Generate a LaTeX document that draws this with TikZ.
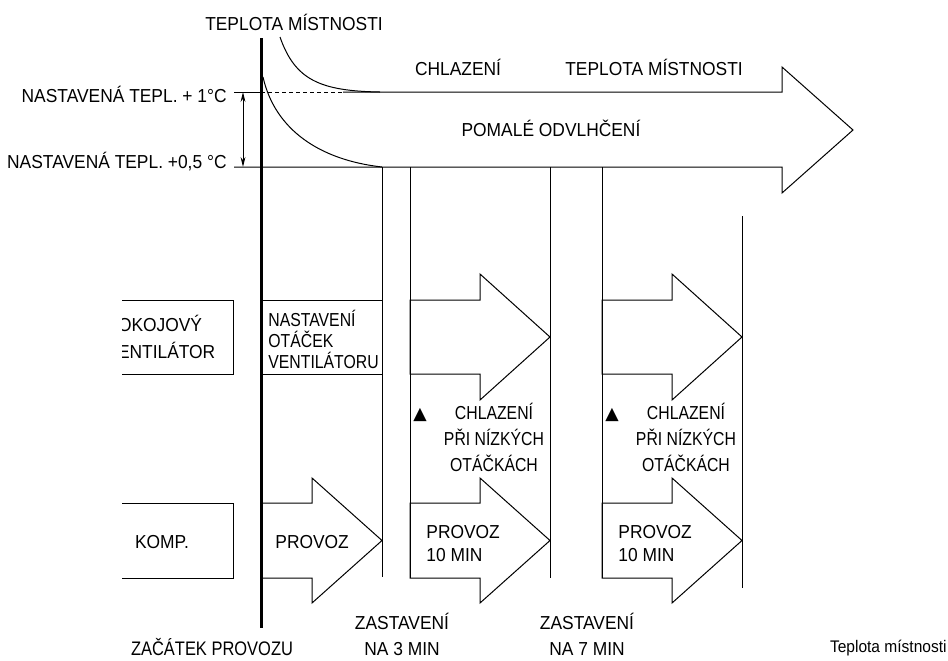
\documentclass[tikz,border=0pt]{standalone}
\usepackage{fontspec}
\setmainfont[FakeStretch=0.925]{Liberation Sans}
\newfontfamily\narrowsf[FakeStretch=0.84]{Liberation Sans}
\newfontfamily\symfont{DejaVu Sans}
\usetikzlibrary{arrows.meta}

\tikzset{
  lbl/.style={font=\fontsize{9.4}{10.5}\selectfont, inner sep=0pt},
  nlbl/.style={font=\narrowsf\fontsize{9.4}{13}\selectfont, inner sep=0pt},
  thin/.style={line width=0.5pt},
  blockarr/.style={line width=0.5pt, line join=miter},
}

\begin{document}
\begin{tikzpicture}[x=0.5pt, y=-0.5pt]
\useasboundingbox (0,0) rectangle (948,660);

% start of operation
\draw[line width=1.5pt] (261,38) -- (261,628);

% room temperature curves
\draw[thin] (280,37) .. controls (295,80) and (320,91) .. (380,92);
\draw[thin] (263,77) .. controls (275,130) and (320,160) .. (382,167);

% set point lines and the big arrow
\draw[thin] (234,92) -- (261,92);
\draw[thin, dash pattern=on 2pt off 1.5pt] (261,92) -- (343,92);
\draw[blockarr] (343,92) -- (782,92) -- (782,67) -- (853,130) -- (782,193) -- (782,167) -- (234,167);

\coordinate (plus1) at (243,92);
\coordinate (plus05) at (243,167);
\draw[thin, {Stealth[length=5pt,width=2.4pt]}-{Stealth[length=5pt,width=2.4pt]}] (plus1) -- (plus05);

\node[lbl, anchor=base] (roomtop) at (294,30) {TEPLOTA MÍSTNOSTI};
\node[lbl, anchor=base east] (set1) at (227,102) {NASTAVENÁ TEPL. + 1°C};
\node[lbl, anchor=base east] (set05) at (227,168) {NASTAVENÁ TEPL. +0,5 °C};
\node[lbl, anchor=base] (cool) at (458,75) {CHLAZENÍ};
\node[lbl, anchor=base] (roomtemp) at (654,75) {TEPLOTA MÍSTNOSTI};
\node[lbl, anchor=base] (dehum) at (551,136) {POMALÉ ODVLHČENÍ};

% time marks
\draw[thin] (382,167) -- (382,577);
\draw[thin] (410,167) -- (410,578);
\draw[thin] (550,167) -- (550,578);
\draw[thin] (602,167) -- (602,578);
\draw[thin] (742,216) -- (742,588);

% indoor fan row
\begin{scope}
  \clip (122,280) rectangle (240,390);
  \node[lbl, font=\fontsize{9.4}{13.5}\selectfont, align=left, anchor=base west] (fan) at (106,358) {POKOJOVÝ\\VENTILÁTOR};
\end{scope}
\draw[thin] (122,300) -- (233,300) -- (233,374) -- (122,374);
\node[nlbl, font=\narrowsf\fontsize{9.4}{10.5}\selectfont, align=left, anchor=base west] (fanset) at (268,368) {NASTAVENÍ\\OTÁČEK\\VENTILÁTORU};
\draw[thin] (261,300) -- (382,300) (261,374) -- (382,374);

\foreach \xa/\n in {410/a, 602/b} {
  \draw[blockarr] (\xa,300) -- (\xa+70,300) -- (\xa+70,274) -- (\xa+140,337) -- (\xa+70,400) -- (\xa+70,374) -- (\xa,374) -- cycle;
  \node[lbl, font=\symfont\fontsize{8.7}{10.5}\selectfont, anchor=base] (tri\n) at (\xa+10,419) {▲};
  \node[nlbl, align=center, anchor=base] (low\n) at (\xa+84,471) {CHLAZENÍ\\PŘI NÍZKÝCH\\OTÁČKÁCH};
}

% compressor row
\draw[thin] (122,503) -- (233,503) -- (233,578) -- (122,578);
\node[lbl, anchor=base] (comp) at (162,548) {KOMP.};
\draw[blockarr] (261,503) -- (312,503) -- (312,478) -- (382,540.5) -- (312,603) -- (312,578) -- (261,578);
\node[lbl, anchor=base west] (run) at (275,548) {PROVOZ};
\foreach \xa/\n in {410/a, 602/b} {
  \draw[blockarr] (\xa,503) -- (\xa+70,503) -- (\xa+70,478) -- (\xa+140,540.5) -- (\xa+70,603) -- (\xa+70,578) -- (\xa,578) -- cycle;
  \node[lbl, font=\fontsize{9.4}{11.5}\selectfont, align=left, anchor=base west] (run\n) at (\xa+16,561) {PROVOZ\\10 MIN};
}

% bottom labels
\node[nlbl, font=\narrowsf\fontsize{9.8}{13}\selectfont, anchor=base] (start) at (212,655) {ZAČÁTEK PROVOZU};
\node[lbl, font=\fontsize{9.4}{13}\selectfont, align=center, anchor=base] (stop3) at (402,655) {ZASTAVENÍ\\NA 3 MIN};
\node[lbl, font=\fontsize{9.4}{13}\selectfont, align=center, anchor=base] (stop7) at (587,655) {ZASTAVENÍ\\NA 7 MIN};
\node[lbl, font=\fontsize{8.4}{9}\selectfont, anchor=base east] (caption) at (947,652) {Teplota místnosti};
\end{tikzpicture}
\end{document}
